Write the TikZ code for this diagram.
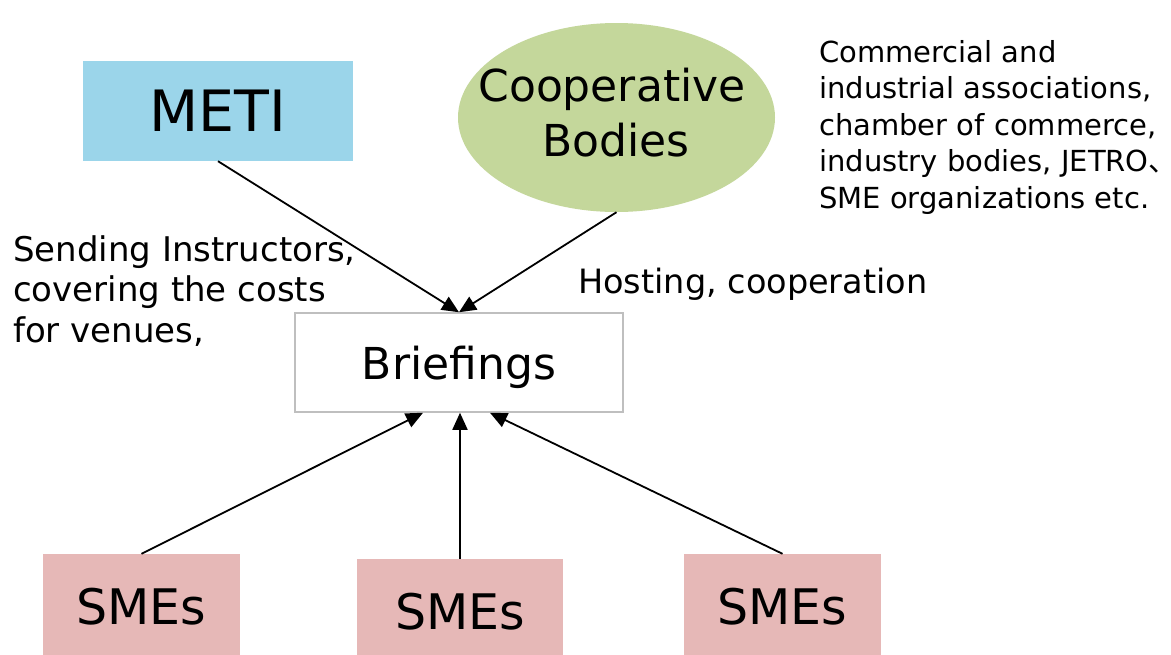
\documentclass[tikz,border=0pt]{standalone}
\usepackage{fontspec}
\setmainfont{DejaVu Sans}
\newfontfamily\cjk{Noto Sans CJK JP}
\usetikzlibrary{arrows.meta,shapes.geometric}
\definecolor{metiblue}{RGB}{155,213,234}
\definecolor{coopgreen}{RGB}{196,215,155}
\definecolor{smepink}{RGB}{230,184,183}
\definecolor{boxgray}{RGB}{191,191,191}
\tikzset{
  arr/.style={-{Triangle[length=17pt,width=15pt]}, line width=1.8pt, black},
  smebox/.style={fill=smepink, minimum height=106pt, inner sep=0pt, font=\fontsize{49}{58}\selectfont},
  note/.style={align=left, inner sep=0pt, anchor=base west},
}
\begin{document}
\begin{tikzpicture}[x=1pt,y=-1pt]
\useasboundingbox (0,0) rectangle (1171,654);
\fill[white] (0,0) rectangle (1171,654);

% top nodes
\node[fill=metiblue, minimum width=270pt, minimum height=100pt, inner sep=0pt,
      font=\fontsize{57}{68}\selectfont] (meti) at (218,111) {\raisebox{-2pt}{METI}};
\node[ellipse, fill=coopgreen, minimum width=317pt, minimum height=189pt, inner sep=0pt] (coop) at (616.5,117.5) {};
\node[align=center, inner sep=0pt, font=\fontsize{44}{55}\selectfont] (cooptext) at (612,113) {Cooperative\\\hspace*{8pt}Bodies};

% central box
\node[draw=boxgray, line width=1.5pt, fill=white, minimum width=328pt, minimum height=99pt, inner sep=0pt,
      text depth=0pt, font=\fontsize{44}{53}\selectfont] (brief) at (459,362.5) {Briefings};

% SMEs
\node[smebox, minimum width=197pt] (sme1) at (141.5,607) {SMEs};
\node[smebox, minimum width=206pt] (sme2) at (460,612) {SMEs};
\node[smebox, minimum width=197pt] (sme3) at (782.5,607) {SMEs};

% labels (base = baseline of the last line)
\node[note, font=\fontsize{34}{40.5}\selectfont] (leftlabel) at (13,342)
  {Sending Instructors,\\covering the costs\\for venues,};
\node[note, font=\fontsize{33.5}{40}\selectfont] (hostlabel) at (578,293) {Hosting, cooperation};
\node[note, font=\fontsize{29}{36.5}\selectfont] (coopnote) at (819,208)
  {Commercial and\\industrial associations,\\chamber of commerce,\\industry bodies, JETRO{\cjk 、}\\SME organizations etc.};

% connectors
\draw[arr] (meti.south) -- (brief.north);
\draw[arr] (coop.south) -- (brief.north);
\draw[arr] (sme1.north) -- ([xshift=-36pt]brief.south);
\draw[arr] (sme2.north) -- (sme2.north |- brief.south);
\draw[arr] (sme3.north) -- ([xshift=31pt]brief.south);
\end{tikzpicture}
\end{document}
